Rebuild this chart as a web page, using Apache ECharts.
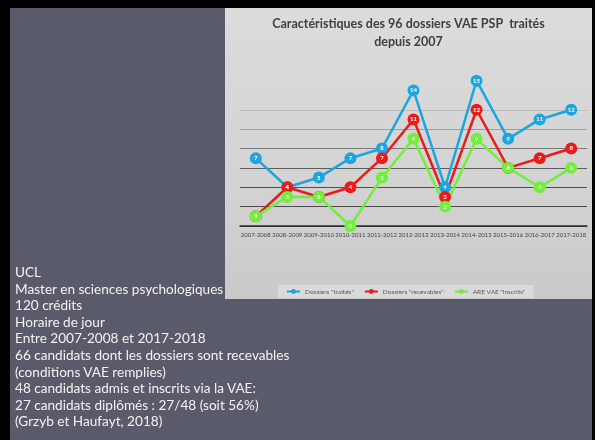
<!DOCTYPE html>
<html>
<head>
<meta charset="utf-8">
<script src="https://cdn.jsdelivr.net/npm/echarts@6/dist/echarts.min.js"></script>
<style>
  html, body { margin: 0; padding: 0; background: #fff; }
  .frame { position: absolute; left: 0; top: 0; width: 595px; height: 440px; background: #000; }
  .slide { position: absolute; left: 10px; top: 8px; width: 582px; height: 432px; background: #5a5b6a; }
  .panel {
    position: absolute; left: 225px; top: 8px; width: 367px; height: 291px;
    background: linear-gradient(180deg, #dcdcdc 0%, #d3d3d3 60%, #c9c9c9 100%);
  }
  #chart { position: absolute; left: 225px; top: 8px; width: 367px; height: 291px; }
  .notes {
    position: absolute; left: 15px; top: 264px;
    font-family: Lato, "Open Sans", sans-serif; font-size: 13.6px; line-height: 16.6px;
    color: #f2f2f2; white-space: nowrap;
  }
</style>
</head>
<body>
<div class="frame"></div>
<div class="slide"></div>
<div class="panel"></div>
<div id="chart"></div>
<div class="notes">
  UCL<br>
  Master en sciences psychologiques<br>
  120 crédits<br>
  Horaire de jour<br>
  Entre 2007-2008 et 2017-2018<br>
  66 candidats dont les dossiers sont recevables<br>
  (conditions VAE remplies)<br>
  48 candidats admis et inscrits via la VAE:<br>
  27 candidats diplômés : 27/48 (soit 56%)<br>
  (Grzyb et Haufayt, 2018)
</div>
<script>
// années académiques
const years = ['2007-2008', '2008-2009', '2009-2010', '2010-2011', '2011-2012', '2012-2013',
  '2013-2014', '2014-2015', '2015-2016', '2016-2017', '2017-2018']

// séries
const traites = [7, 4, 5, 7, 8, 14, 4, 15, 9, 11, 12]
const recevables = [1, 4, 3, 4, 7, 11, 3, 12, 6, 7, 8]
const inscrits = [1, 3, 3, 0, 5, 9, 2, 9, 6, 4, 6]

const seriesNames = ['Dossiers "traités"', 'Dossiers "recevables"', 'ARE VAE "inscrits"']
const seriesColors = ['#1ea5e0', '#ec1b1b', '#72ee3c']

const chart = echarts.init(document.getElementById('chart'))

const makeSeries = (name, data, color) => ({
  name: name,
  type: 'line',
  data: data,
  symbol: 'circle',
  symbolSize: 12,
  lineStyle: { width: 2.5, color: color },
  itemStyle: { color: color },
  label: {
    show: true,
    position: 'inside',
    color: '#fff',
    fontSize: 6,
    fontWeight: 'bold',
    fontFamily: 'Lato'
  },
  emphasis: { disabled: true },
  animation: false
})

const option = {
  textStyle: { fontFamily: 'Lato' },
  title: {
    text: 'Caractéristiques des 96 dossiers VAE PSP  traités\ndepuis 2007',
    left: 'center',
    top: 2,
    textStyle: { fontSize: 12.5, fontWeight: 'bold', color: '#3f3f3f', lineHeight: 18, fontFamily: 'Lato' }
  },
  legend: {
    data: seriesNames,
    left: 53,
    top: 277,
    backgroundColor: '#dadada',
    padding: [3, 8],
    itemWidth: 13,
    itemHeight: 6,
    itemGap: 10,
    textStyle: { fontSize: 6.5, color: '#5a5a5a', fontFamily: 'Lato' }
  },
  grid: { left: 15, right: 5, top: 63, bottom: 73 },
  xAxis: {
    type: 'category',
    data: years,
    boundaryGap: true,
    axisLine: { lineStyle: { color: '#333', width: 1.5 } },
    axisTick: { show: false },
    axisLabel: { fontSize: 6, color: '#444', margin: 6, interval: 0 }
  },
  yAxis: {
    type: 'value',
    min: 0,
    max: 16,
    interval: 2,
    axisLabel: { show: false },
    axisLine: { show: false },
    axisTick: { show: false },
    splitLine: {
      lineStyle: {
        width: 1.2,
        color: ['#333', '#4a4a4a', '#505050', '#5c5c5c', '#7a7a7a', '#a0a0a0', '#bdbdbd', '#d8d8d8', 'rgba(0,0,0,0)']
      }
    }
  },
  series: [
    makeSeries(seriesNames[0], traites, seriesColors[0]),
    makeSeries(seriesNames[1], recevables, seriesColors[1]),
    makeSeries(seriesNames[2], inscrits, seriesColors[2])
  ]
}

chart.setOption(option)
</script>
</body>
</html>
